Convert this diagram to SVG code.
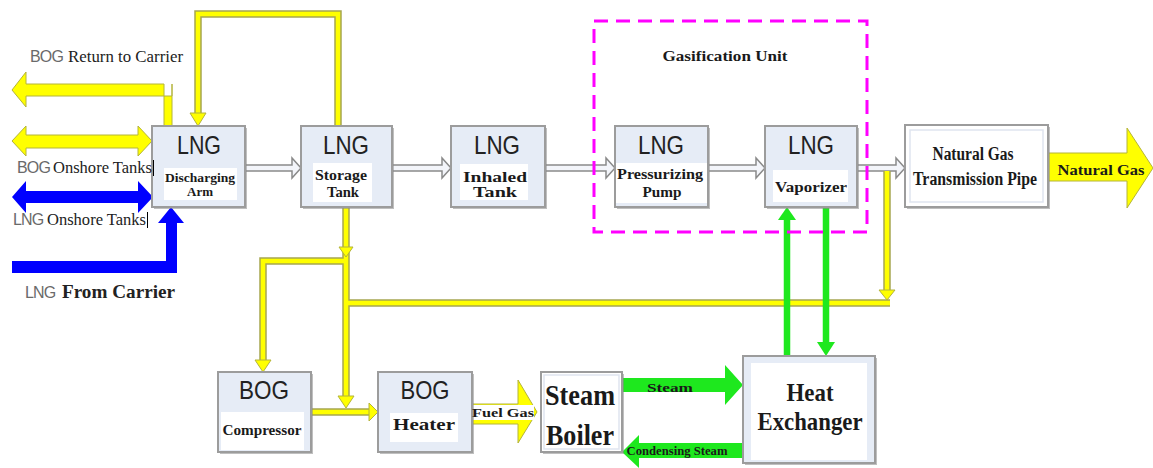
<svg xmlns="http://www.w3.org/2000/svg" width="1153" height="468" viewBox="0 0 1153 468">
<style>
.bg{fill:#fff}
.box{fill:#e6ecf6;stroke:#9c9c9c;stroke-width:2}
.shd{fill:#8a8a8a;opacity:.55}
.lbl{fill:#fff}
.lng{font-family:"Liberation Sans",Arial,sans-serif;font-size:25px;fill:#222;text-anchor:middle}
.bs{font-family:"Liberation Serif","Times New Roman",serif;font-weight:bold;fill:#1a1a1a;text-anchor:middle}
.rs{font-family:"Liberation Serif","Times New Roman",serif;fill:#222}
.gs{font-family:"Liberation Sans",Arial,sans-serif;fill:#6a6a6a;font-size:16px;letter-spacing:-0.8px}
.pipe{fill:#f3f5fa;stroke:#8a8a8a;stroke-width:1.5;stroke-linejoin:miter}
.yo{fill:none;stroke:#a6a650;stroke-width:7.5;stroke-linejoin:miter}
.yl{fill:none;stroke:#ffff00;stroke-width:4.5;stroke-linejoin:miter}
.yf{fill:#ffff00;stroke:#b4b43a;stroke-width:1}
.gl{fill:none;stroke:#1ee81e;stroke-width:6.5}
.gf{fill:#1ee81e}
.bf{fill:#0000ff}
.dash{fill:none;stroke:#ff00ff;stroke-width:3;stroke-dasharray:14 8}
</style>
<rect class="bg" x="0" y="0" width="1153" height="468"/>

<g id="connectors">
  <path class="pipe" d="M245,165 H292 V158 L301,168 L292,178 V171 H245 Z"/>
  <path class="pipe" d="M392,165 H442 V158 L451,168 L442,178 V171 H392 Z"/>
  <path class="pipe" d="M545,165 H606 V158 L615,168 L606,178 V171 H545 Z"/>
  <path class="pipe" d="M708,165 H756 V158 L765,168 L756,178 V171 H708 Z"/>
  <path class="pipe" d="M857,165 H896 V158 L905,168 L896,178 V171 H857 Z"/>

  <path class="yo" d="M338,126 V14 H198 V114"/>
  <path class="yo" d="M346,207 V398"/>
  <path class="yo" d="M346,261 H263 V361"/>
  <path class="yo" d="M346,303 H890"/>
  <path class="yo" d="M887,171 V292"/>
  <path class="yo" d="M311,412 H370"/>
  <path class="yl" d="M338,126 V14 H198 V114"/>
  <path class="yl" d="M346,207 V398"/>
  <path class="yl" d="M346,261 H263 V361"/>
  <path class="yl" d="M346,303 H890"/>
  <path class="yl" d="M887,171 V292"/>
  <path class="yl" d="M311,412 H370"/>
  <polygon class="yf" points="190,113 206,113 198,126"/>
  <polygon class="yf" points="339,247 353,247 346,257"/>
  <polygon class="yf" points="255,360 271,360 263,372"/>
  <polygon class="yf" points="338,396 354,396 346,408"/>
  <polygon class="yf" points="879,290 895,290 887,300"/>
  <polygon class="yf" points="369,403 369,421 378,412"/>

  <path class="yf" d="M12,90 L26,72 V84 H164 V126 H172 V84 H172 V96 H26 V107 Z"/>
  <polygon class="yf" points="12,141 26,126 26,135 138,135 138,126 152,141 138,156 138,148 26,148 26,156"/>
  <polygon class="bf" points="12,197 26,181 26,191 138,191 138,181 153,197 138,213 138,203 26,203 26,213"/>
  <polygon class="bf" points="12,261 166,261 166,223 158,223 171,207 184,223 177,223 177,273 12,273"/>

  <polygon class="yf" points="472,404 518,404 518,380 537,412 518,443 518,424 472,424"/>
  <rect x="472" y="405" width="62" height="15" fill="#fff"/>

  <polygon class="yf" points="1048,153 1127,153 1127,128 1153,168 1127,208 1127,181 1048,181"/>

  <path class="gl" d="M787,356 V219"/>
  <polygon class="gf" points="778,220 796,220 787,207"/>
  <path class="gl" d="M826,207 V343"/>
  <polygon class="gf" points="817,342 835,342 826,356"/>
  <polygon class="gf" points="622,378 725,378 725,365 743,385 725,405 725,392 622,392"/>
  <polygon class="gf" points="743,443 639,443 639,435 622,452 639,468 639,458 743,458"/>
</g>

<g id="gasification-unit">
  <rect class="dash" x="594" y="21" width="273" height="211"/>
  <text class="bs" x="725" y="61" font-size="14" textLength="125" lengthAdjust="spacingAndGlyphs">Gasification Unit</text>
</g>

<g id="discharging-arm">
  <rect class="shd" x="154" y="128" width="93" height="81"/>
  <rect class="box" x="152" y="126" width="93" height="81"/>
  <rect class="lbl" x="164" y="168" width="73" height="32"/>
  <text class="lng" x="199" y="154" textLength="44" lengthAdjust="spacingAndGlyphs">LNG</text>
  <text class="bs" x="200" y="182" font-size="13" textLength="70" lengthAdjust="spacingAndGlyphs">Discharging</text>
  <text class="bs" x="200" y="196" font-size="13">Arm</text>
</g>

<g id="storage-tank">
  <rect class="shd" x="303" y="128" width="91" height="81"/>
  <rect class="box" x="301" y="126" width="91" height="81"/>
  <rect class="lbl" x="313" y="163" width="59" height="39"/>
  <text class="lng" x="346" y="154" textLength="46" lengthAdjust="spacingAndGlyphs">LNG</text>
  <text class="bs" x="341" y="180" font-size="14" textLength="52" lengthAdjust="spacingAndGlyphs">Storage</text>
  <text class="bs" x="343" y="197" font-size="14" textLength="32" lengthAdjust="spacingAndGlyphs">Tank</text>
</g>

<g id="inhaled-tank">
  <rect class="shd" x="453" y="128" width="94" height="81"/>
  <rect class="box" x="451" y="126" width="94" height="81"/>
  <rect class="lbl" x="460" y="164" width="68" height="36"/>
  <text class="lng" x="497" y="154" textLength="46" lengthAdjust="spacingAndGlyphs">LNG</text>
  <text class="bs" x="495" y="182" font-size="14" textLength="64" lengthAdjust="spacingAndGlyphs">Inhaled</text>
  <text class="bs" x="495" y="197" font-size="14" textLength="44" lengthAdjust="spacingAndGlyphs">Tank</text>
</g>

<g id="pressurizing-pump">
  <rect class="shd" x="617" y="128" width="93" height="81"/>
  <rect class="box" x="615" y="126" width="93" height="81"/>
  <rect class="lbl" x="616" y="163" width="91" height="40"/>
  <text class="lng" x="661" y="154" textLength="46" lengthAdjust="spacingAndGlyphs">LNG</text>
  <text class="bs" x="660" y="179" font-size="14" textLength="86" lengthAdjust="spacingAndGlyphs">Pressurizing</text>
  <text class="bs" x="662" y="197" font-size="14" textLength="39" lengthAdjust="spacingAndGlyphs">Pump</text>
</g>

<g id="vaporizer">
  <rect class="shd" x="767" y="128" width="92" height="81"/>
  <rect class="box" x="765" y="126" width="92" height="81"/>
  <rect class="lbl" x="773" y="170" width="75" height="32"/>
  <text class="lng" x="811" y="154" textLength="46" lengthAdjust="spacingAndGlyphs">LNG</text>
  <text class="bs" x="811" y="192" font-size="14" textLength="72" lengthAdjust="spacingAndGlyphs">Vaporizer</text>
</g>

<g id="transmission-pipe">
  <rect class="shd" x="907" y="127" width="143" height="82"/>
  <rect x="905" y="125" width="143" height="82" fill="#fff" stroke="#9c9c9c" stroke-width="2"/>
  <rect x="910" y="130" width="133" height="72" fill="none" stroke="#dfe5ef" stroke-width="1.5"/>
  <text class="bs" x="973" y="160" font-size="18" textLength="81" lengthAdjust="spacingAndGlyphs">Natural Gas</text>
  <text class="bs" x="975" y="185" font-size="18" textLength="124" lengthAdjust="spacingAndGlyphs">Transmission Pipe</text>
</g>

<g id="natural-gas-label">
  <text class="bs" x="1101" y="175" font-size="14.5" textLength="87" lengthAdjust="spacingAndGlyphs">Natural Gas</text>
</g>

<g id="bog-compressor">
  <rect class="shd" x="220" y="374" width="93" height="80"/>
  <rect class="box" x="218" y="372" width="93" height="80"/>
  <rect class="lbl" x="221" y="412" width="83" height="38"/>
  <text class="lng" x="264" y="399" textLength="50" lengthAdjust="spacingAndGlyphs">BOG</text>
  <text class="bs" x="262" y="435" font-size="14" textLength="79" lengthAdjust="spacingAndGlyphs">Compressor</text>
</g>

<g id="bog-heater">
  <rect class="shd" x="380" y="374" width="94" height="80"/>
  <rect class="box" x="378" y="372" width="94" height="80"/>
  <rect class="lbl" x="390" y="413" width="68" height="29"/>
  <text class="lng" x="425" y="399" textLength="49" lengthAdjust="spacingAndGlyphs">BOG</text>
  <text class="bs" x="424" y="430" font-size="17" textLength="62" lengthAdjust="spacingAndGlyphs">Heater</text>
</g>

<g id="fuel-gas-label">
  <text class="bs" x="503" y="417" font-size="12.5" textLength="62" lengthAdjust="spacingAndGlyphs">Fuel Gas</text>
</g>

<g id="steam-boiler">
  <rect class="shd" x="543" y="374" width="81" height="80"/>
  <rect x="541" y="372" width="81" height="80" fill="#fff" stroke="#9c9c9c" stroke-width="2"/>
  <rect x="544" y="375" width="75" height="74" fill="none" stroke="#dfe5ef" stroke-width="1.5"/>
  <text class="bs" x="580" y="405" font-size="30" textLength="70" lengthAdjust="spacingAndGlyphs">Steam</text>
  <text class="bs" x="580" y="445" font-size="30" textLength="68" lengthAdjust="spacingAndGlyphs">Boiler</text>
</g>

<g id="heat-exchanger">
  <rect class="shd" x="745" y="358" width="132" height="107"/>
  <rect class="box" x="743" y="356" width="132" height="107"/>
  <rect class="lbl" x="751" y="363" width="116" height="97"/>
  <text class="bs" x="810" y="401" font-size="25" textLength="47" lengthAdjust="spacingAndGlyphs">Heat</text>
  <text class="bs" x="810" y="430" font-size="25" textLength="105" lengthAdjust="spacingAndGlyphs">Exchanger</text>
</g>

<g id="steam-labels">
  <text class="bs" x="670" y="392" font-size="13.5" textLength="46" lengthAdjust="spacingAndGlyphs">Steam</text>
  <text class="bs" x="677" y="455" font-size="11.5" textLength="101" lengthAdjust="spacingAndGlyphs">Condensing Steam</text>
</g>

<g id="side-labels">
  <text class="gs" x="30" y="62">BOG</text>
  <text class="rs" x="68" y="62" font-size="16" textLength="115" lengthAdjust="spacingAndGlyphs">Return to Carrier</text>
  <text class="gs" x="17" y="173">BOG</text>
  <text class="rs" x="53" y="173" font-size="16" textLength="99" lengthAdjust="spacingAndGlyphs">Onshore Tanks</text>
  <line x1="153.5" y1="160" x2="153.5" y2="176" stroke="#000" stroke-width="1"/>
  <text class="gs" x="13" y="225">LNG</text>
  <text class="rs" x="47" y="225" font-size="16" textLength="99" lengthAdjust="spacingAndGlyphs">Onshore Tanks</text>
  <line x1="147.5" y1="212" x2="147.5" y2="228" stroke="#000" stroke-width="1"/>
  <text class="gs" x="25" y="298">LNG</text>
  <text class="rs" x="62" y="298" font-size="18" font-weight="bold" fill="#111" textLength="113" lengthAdjust="spacingAndGlyphs">From Carrier</text>
</g>
</svg>
